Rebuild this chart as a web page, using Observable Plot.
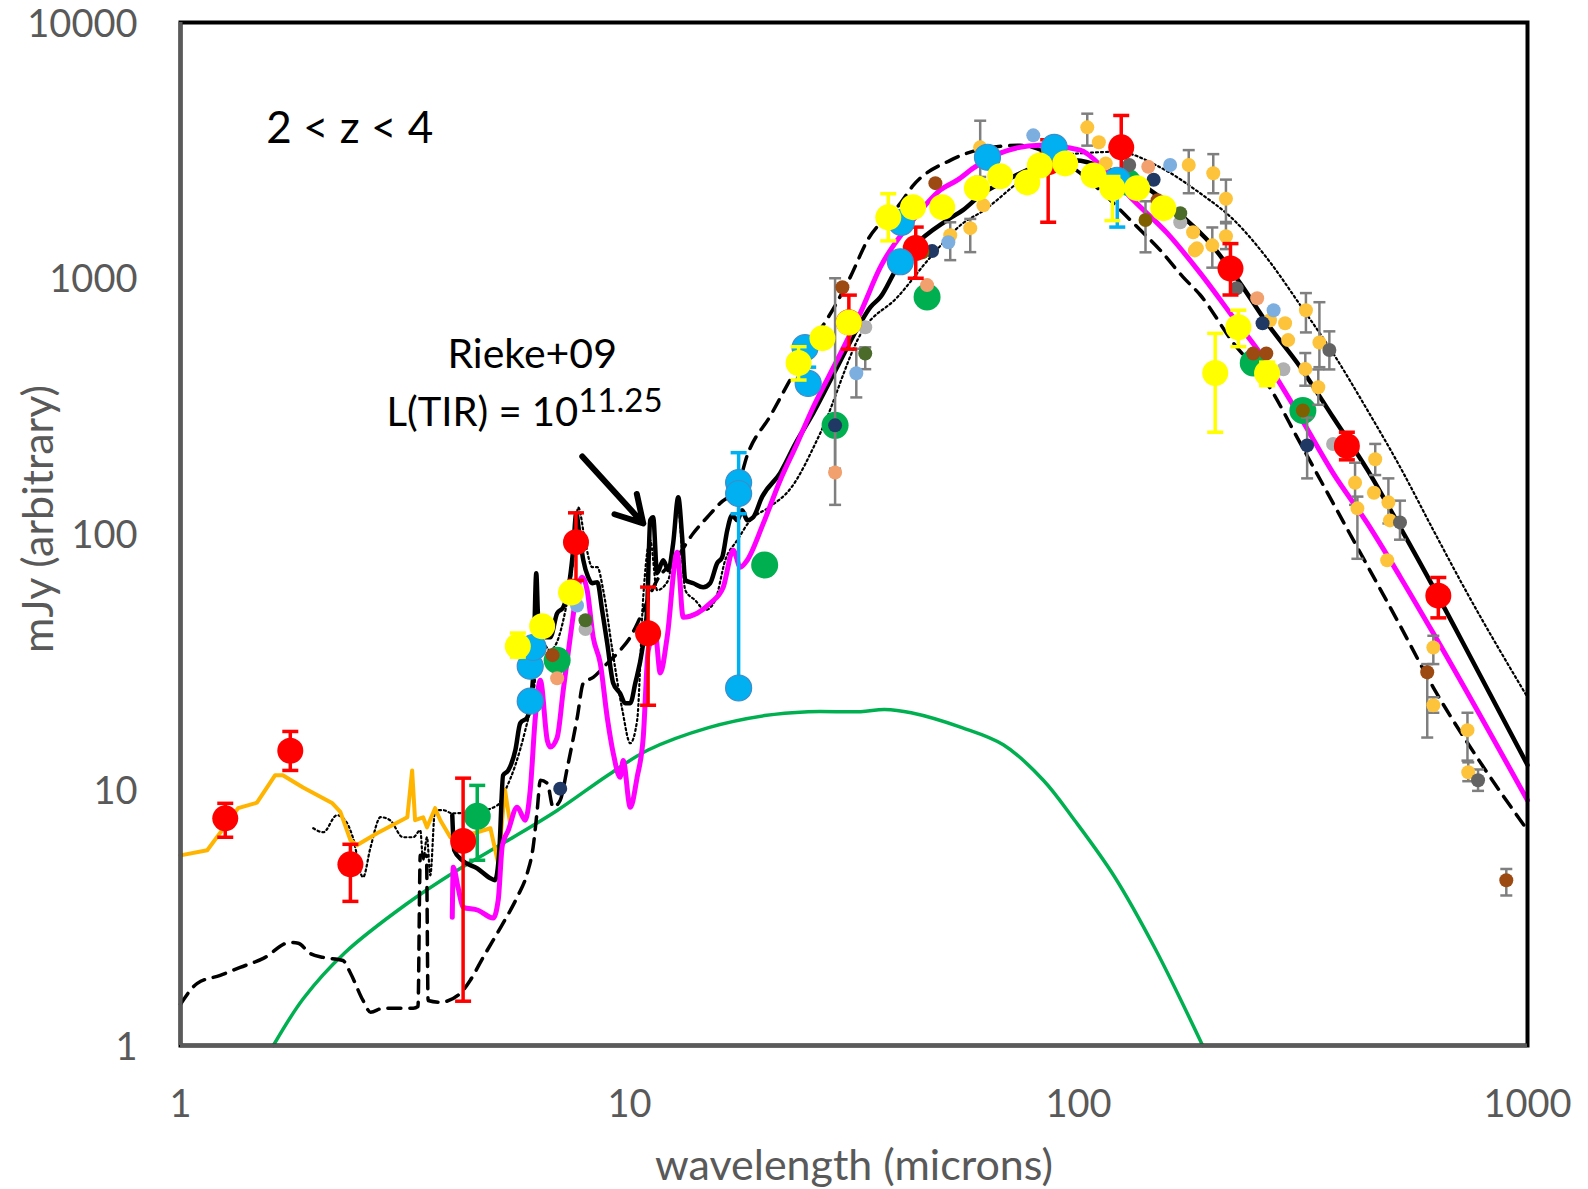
<!DOCTYPE html>
<html><head><meta charset="utf-8">
<script src="https://cdn.jsdelivr.net/npm/d3@7"></script>
<script src="https://cdn.jsdelivr.net/npm/@observablehq/plot@0.6"></script>
<style>html,body{margin:0;padding:0;background:#fff;} #chart svg{display:block;}</style>
</head><body><div id="chart"></div>
<script>
// ---------- axes ----------
const xTicks = [1, 10, 100, 1000];
const yTicks = [1, 10, 100, 1000, 10000];
const xLabel = "wavelength (microns)";
const yLabel = "mJy (arbitrary)";

// ---------- template lines [wavelength, flux] ----------
const orangeLine = [[1.0,5.54],[1.147,5.8],[1.238,6.95],[1.344,8.47],[1.48,8.9],[1.625,11.4],[1.69,11.4],[1.875,10.2],[2.18,8.85],[2.27,8.2],[2.39,6.35],[2.47,6.07],[2.74,6.76],[3.2,7.8],[3.28,11.9],[3.33,7.6],[3.47,7.8],[3.54,7.13],[3.69,8.47],[3.79,7.6],[3.99,6.52],[4.2,6.52],[4.58,6.82],[4.9,7.07],[5.1,5.16],[5.28,10.0],[5.42,7.4]];

const riekeSolid = [[4.03,7.95],[4.07,5.8],[4.24,5.3],[4.58,4.93],[4.9,4.51],[5.02,4.43],[5.13,5.8],[5.23,11.4],[5.37,11.9],[5.57,14.3],[5.71,18.2],[5.92,19.2],[6.1,27.5],[6.2,70.3],[6.26,47.3],[6.49,39.5],[6.66,39.5],[6.9,49],[7.12,51.7],[7.3,60.3],[7.49,86.4],[7.61,120.6],[7.73,100.7],[7.89,79],[8.09,67.8],[8.26,64.2],[8.48,64.8],[8.69,50.4],[8.92,37.4],[9.2,26.1],[9.53,23.8],[9.78,21.8],[10.04,21.8],[10.3,26.1],[10.67,35.1],[10.95,51.7],[11.12,113.2],[11.29,116.3],[11.52,70.3],[11.89,79],[12.2,72.2],[12.51,92],[12.84,139.3],[13.1,97.2],[13.31,66],[13.87,64.2],[14.59,61.9],[15.12,64.2],[15.68,76.9],[16.09,81.2],[16.51,103.5],[16.93,118.4],[17.38,113.2],[17.82,123.9],[18.29,113.2],[18.86,116.3],[19.75,140],[21.65,173],[23.4,225],[25.65,297],[29,449],[32.65,667],[34.4,771],[36.2,843],[39.5,1105],[42.8,1323],[51,1688],[55.3,1847],[61.3,2151],[67.9,2376],[82.1,2770],[98.3,2896],[117.7,2647],[144.4,2211],[171.1,1734],[196.5,1371],[229,957],[263,667],[312,449],[369,286],[440,178],[521,106],[617,62],[719,37.4],[1000,12.5]];

const dottedLine = [[1.975,7.07],[2.08,6.82],[2.23,7.95],[2.35,7.4],[2.42,6.52],[2.55,4.55],[2.65,5.96],[2.79,7.81],[2.93,7.6],[3.13,6.52],[3.3,6.52],[3.42,6.94],[3.47,5.3],[3.54,6.52],[3.6,4.63],[3.69,8.32],[3.85,8.32],[4.03,8.09],[4.53,8.17],[5.08,8.7],[5.29,9.96],[5.57,12.5],[5.86,17.1],[6.1,23.4],[6.33,38.4],[6.66,35.1],[7.12,46],[7.49,79],[7.69,127],[7.97,92.9],[8.26,74.2],[8.48,74.2],[8.74,60.3],[9.16,35.1],[9.64,20.5],[10.04,15.2],[10.4,18.7],[10.73,56.6],[11.12,94.6],[11.52,60.3],[12.2,66],[12.84,124],[13.31,60.3],[14.0,55.1],[14.75,50.4],[15.52,55.1],[16.34,79],[17.38,94.6],[18.57,113],[20.58,128],[22.8,150],[26.6,248],[33.1,627],[39.5,843],[46.8,1209],[55.3,1642],[61.3,1834],[73,2354],[86.5,2950],[102.4,3085],[122,3120],[152,2716],[186.6,2150],[221,1700],[263,1197],[312,784],[369,509],[440,305],[521,182],[617,103.5],[734,58.7],[1000,23]];

const dashedLine = [[1.0,1.45],[1.09,1.75],[1.226,1.88],[1.358,2.02],[1.529,2.19],[1.755,2.53],[1.83,2.51],[1.944,2.29],[2.08,2.21],[2.3,2.15],[2.39,1.92],[2.55,1.5],[2.65,1.35],[2.83,1.4],[3.3,1.4],[3.38,1.42],[3.42,5.54],[3.53,5.54],[3.56,1.5],[3.79,1.476],[4.2,1.6],[4.42,1.8],[4.72,2.21],[5.23,3.01],[5.62,3.8],[5.92,4.72],[6.1,5.96],[6.23,8.32],[6.33,10.9],[6.56,10.6],[6.76,8.54],[7.01,9.1],[7.27,12.2],[7.65,19.2],[7.89,26.1],[8.3,27.5],[8.92,31.2],[9.53,35.1],[10.04,39.5],[10.57,47.3],[11.52,66],[12.77,81.2],[13.87,100.7],[14.9,116.3],[15.92,132],[17.38,152],[18.29,203],[20.6,290],[22.45,382],[25.3,556],[27,655],[31,1008],[33.8,1396],[40.1,1963],[42.8,2300],[51.8,2891],[56.5,3085],[61.3,3200],[74.2,3310],[86.5,3050],[100.9,2574],[111.6,2208],[132.6,1640],[152,1288],[171,1010],[186.7,860],[221,560],[263,388],[312,226],[369,132],[431,80.3],[513,45.9],[617,25.1],[797,12.3],[1000,6.95]];

const magentaLine = [[4.03,3.17],[4.05,4.98],[4.15,4.16],[4.26,3.47],[4.6,3.38],[4.97,3.15],[5.1,3.7],[5.21,6.07],[5.37,6.94],[5.62,8.54],[5.86,7.6],[6.01,9.96],[6.17,19.2],[6.33,26.8],[6.56,15.6],[6.66,14.7],[6.9,16],[7.12,24.5],[7.38,39.5],[7.65,60.3],[7.85,67.8],[8.05,60.3],[8.3,39.5],[8.61,31.2],[8.92,19.2],[9.2,13.9],[9.53,11.2],[9.68,13],[10.04,8.54],[10.4,11.2],[10.73,16],[11.01,35.1],[11.41,40.9],[11.71,28.6],[12.13,39.5],[12.77,84.9],[13.17,47.3],[14.15,49],[15.12,53.6],[16.17,61.9],[17.02,86.4],[17.65,74.2],[18.29,79],[19.86,110],[21.65,162],[23.6,225],[25.65,313],[29,478],[32.65,730],[36.2,1105],[42.8,1688],[49.2,2211],[53.7,2419],[58.4,2700],[66.9,3085],[82.1,3315],[100.9,3170],[114.7,2647],[132.4,2021],[157.6,1501],[186.7,1047],[221,704],[263,466],[312,286],[369,173],[440,110],[521,67.8],[617,40.9],[1000,9.1]];

const greenLine = [[1.61,1],[1.88,1.53],[2.32,2.3],[3.17,3.55],[4.1,4.8],[5.33,6.3],[6.9,8.3],[8.95,11.4],[11,14.3],[15,17.5],[20,19.5],[25,20.2],[32.7,20.2],[37,20.6],[42.4,20],[55,17.5],[68,15],[83.5,10.9],[98,7.6],[120,4.6],[148,2.4],[189,1]];

// ---------- large points [wavelength, flux, low, high] ----------
const redPts = [[1.258,7.73,6.52,8.85],[1.756,14.2,11.9,16.9],[2.39,5.11,3.66,6.12],[4.26,6.31,1.49,11.1],[7.6,92.9,65.8,121],[11.0,40.9,21.4,62],[30.8,673,528,859],[43.4,1312,1000,1585],[85.6,2843,1656,3480],[124.5,3250,2490,4330],[218,1092,860,1366],[396,221,195,250],[633,57.4,47,67.6]];
const bluePts = [[6.01,22.2],[6.01,30.4],[6.1,36],[17.5,25,25,150],[17.5,159,120,208],[17.5,144],[25,388,357,449],[24.6,535],[40.1,1160],[40.3,1655],[62.7,2973],[88.3,3250],[122,2417,1585,2600]];
const yellowPts = [[5.64,36.4,33,41],[6.39,43.6],[7.41,59],[23.8,466,400,540],[26.9,583],[30.8,671],[37.7,1730,1400,2140],[42.8,1897],[49.7,1897],[59.4,2250],[66.9,2506],[76.9,2370],[82,2760],[93.4,2812],[108,2524],[119,2250,1680,2500],[135,2250],[154.5,1880],[201.6,426,250,609],[227,643,540,750],[263,425,380,470]];
const greenPts = [[4.58,7.88,5.3,10.4],[6.9,32.1],[20.0,75.7,70,82],[28.7,266],[46,845],[128.7,2372],[245,466],[316,304]];

// ---------- small points [wavelength, flux, low, high] ----------
const goldPts = [[51.8,1473,1177,1655],[57.4,1570,1265,1706],[61.4,1928],[60.4,3250,2490,4130],[104.6,3890,3300,4400],[111,3400],[115,2812],[176,2773,2150,3170],[180,1513],[181.6,1285],[183.5,1309],[199.6,2573,2150,3057],[213,2047,1660,2430],[198.6,1345,1100,1580],[213,1459,1300,1640],[267,685],[288.5,667],[293,573],[321,750,614,875],[344,561,449,806],[320,442,380,510],[342,375,320,440],[458,196,170,225],[413,158.6,130,190],[455,145],[490,133,110,165],[494,113],[418,126,80,140],[487,79],[617,36,31,40],[617,21.4,20,23],[735,17.1,13,20],[738,11.7,10.8,12.8]];
const brownPts = [[29.8,922],[48,2354],[150,2020],[598,28.8,16,31],[897,4.43,3.86,4.9],[245,508],[262,508],[6.74,33.6]];
const navyPts = [[7.01,10.1],[28.7,266,180,1000],[47.2,1277],[147,2427],[257,667],[323,222,165,285]];
const lightBluePts = [[7.64,52.5],[32,425,342,530],[79.3,3620],[160,2773],[272,750],[51.3,1383]];
const grayPts = [[7.98,42.5],[33.5,643],[168.5,1655],[286,441],[369,225]];
const darkGrayPts = [[225,914],[362,524,440,620],[520,111,95,135],[776,10.9,9.9,12],[129.7,2773]];
const oliveGreenPts = [[7.98,46],[33.5,508,441,537],[168.5,1795]];
const salmonPts = [[6.9,27.3],[28.7,174,130,260],[46,940],[143,2730],[250,835]];
const oliveBrownPts = [[44.9,1264],[141,1690,1263,2000],[316,304]];

// ---------- annotations ----------
const zLabel = "2 < z < 4";
const riekeLabel = "Rieke+09";
const tirLabel = "L(TIR) = 10";
const tirExp = "11.25";

// ---------- build ----------
const capSymbol = {draw(ctx, size){ const r = Math.sqrt(size/Math.PI); ctx.moveTo(-r,0); ctx.lineTo(r,0); }};
const X = d => d[0], Y = d => d[1];
const withErr = a => a.filter(d => d.length > 2);

function errMarks(arr, color, sw, capR){
  const e = withErr(arr);
  return [
    Plot.ruleX(e, {x: X, y1: d => d[2], y2: d => d[3], stroke: color, strokeWidth: sw}),
    Plot.dot(e, {x: X, y: d => d[2], symbol: capSymbol, r: capR, stroke: color, fill: "none", strokeWidth: sw}),
    Plot.dot(e, {x: X, y: d => d[3], symbol: capSymbol, r: capR, stroke: color, fill: "none", strokeWidth: sw})
  ];
}

const smallGroups = [
  [goldPts, "#FDC33A"], [brownPts, "#9C4A12"], [navyPts, "#203864"], [lightBluePts, "#7DAEE0"],
  [grayPts, "#B0B0B0"], [darkGrayPts, "#636363"], [oliveGreenPts, "#4B6B2A"], [salmonPts, "#F2A16E"],
  [oliveBrownPts, "#7F6000"]
];

const smallErr = smallGroups.flatMap(([a]) => errMarks(a, "#7f7f7f", 2.5, 6));
const smallDots = smallGroups.map(([a, c]) => Plot.dot(a, {x: X, y: Y, r: 7, fill: c}));

const chart = Plot.plot({
  width: 1588, height: 1189,
  marginLeft: 180, marginRight: 61, marginTop: 22, marginBottom: 144,
  style: {fontFamily: "Lato, sans-serif", background: "#fff", color: "#595959", overflow: "visible"},
  x: {type: "log", domain: [1, 1000]},
  y: {type: "log", domain: [1, 10000]},
  marks: [
    Plot.axisX({ticks: xTicks, tickSize: 0, tickPadding: 45, tickFormat: d => String(d), fontSize: 38, label: null}),
    Plot.axisY({ticks: yTicks, tickSize: 0, tickPadding: 43, tickFormat: d => String(d), fontSize: 38, dy: 2, label: null}),
    Plot.text([xLabel], {frameAnchor: "bottom", lineAnchor: "middle", dy: 121, text: d => d, fontSize: 43, fill: "#595959"}),
    Plot.text([yLabel], {frameAnchor: "left", textAnchor: "middle", lineAnchor: "middle", dx: -141, dy: -15, rotate: -90, text: d => d, fontSize: 43, fill: "#595959"}),

    Plot.line(greenLine, {x: X, y: Y, stroke: "#00B050", strokeWidth: 3.5, curve: "catmull-rom"}),
    Plot.line(dashedLine, {x: X, y: Y, stroke: "#000", strokeWidth: 3.5, strokeDasharray: "13,9", curve: "monotone-x"}),
    Plot.line(dottedLine, {x: X, y: Y, stroke: "#000", strokeWidth: 2.2, strokeDasharray: "2,3", curve: "monotone-x"}),
    Plot.line(orangeLine, {x: X, y: Y, stroke: "#FFB400", strokeWidth: 4}),
    Plot.line(riekeSolid, {x: X, y: Y, stroke: "#000", strokeWidth: 4.5, curve: "monotone-x"}),
    Plot.line(magentaLine, {x: X, y: Y, stroke: "#FF00FF", strokeWidth: 5, curve: "monotone-x"}),

    ...errMarks(greenPts, "#00B050", 3.5, 8),
    Plot.dot(greenPts, {x: X, y: Y, r: 13.5, fill: "#00B050"}),
    ...smallErr,
    ...smallDots,
    ...errMarks(redPts, "#FF0000", 3.5, 8),
    Plot.dot(redPts, {x: X, y: Y, r: 13, fill: "#FF0000"}),
    ...errMarks(bluePts, "#00B0F0", 3.5, 8),
    Plot.dot(bluePts, {x: X, y: Y, r: 13, fill: "#00B0F0", stroke: "#3C8DCB", strokeWidth: 1.2}),
    ...errMarks(yellowPts, "#FFFF00", 3.5, 8),
    Plot.dot(yellowPts, {x: X, y: Y, r: 13, fill: "#FFFF00"}),

    Plot.text([zLabel], {x: 1.552, y: 3843, text: d => d, textAnchor: "start", fontSize: 44, fill: "#000"}),
    Plot.text([riekeLabel], {x: 6.07, y: 502, text: d => d, fontSize: 41, fill: "#000"}),
    Plot.text([tirLabel], {x: 7.69, y: 297, text: d => d, textAnchor: "end", fontSize: 40, fill: "#000"}),
    Plot.text([tirExp], {x: 7.69, y: 297, dy: -12, dx: 0, text: d => d, textAnchor: "start", fontSize: 33, fill: "#000"}),
    Plot.arrow([{x1: 7.85, y1: 201, x2: 10.73, y2: 110}], {x1: "x1", y1: "y1", x2: "x2", y2: "y2", stroke: "#000", strokeWidth: 6, headLength: 22}),

    Plot.frame({stroke: "#000", strokeWidth: 4}),
    Plot.ruleX([1], {stroke: "#5a5a5a", strokeWidth: 4}),
    Plot.ruleY([1], {stroke: "#5a5a5a", strokeWidth: 4})
  ]
});
document.getElementById("chart").appendChild(chart);
</script></body></html>
